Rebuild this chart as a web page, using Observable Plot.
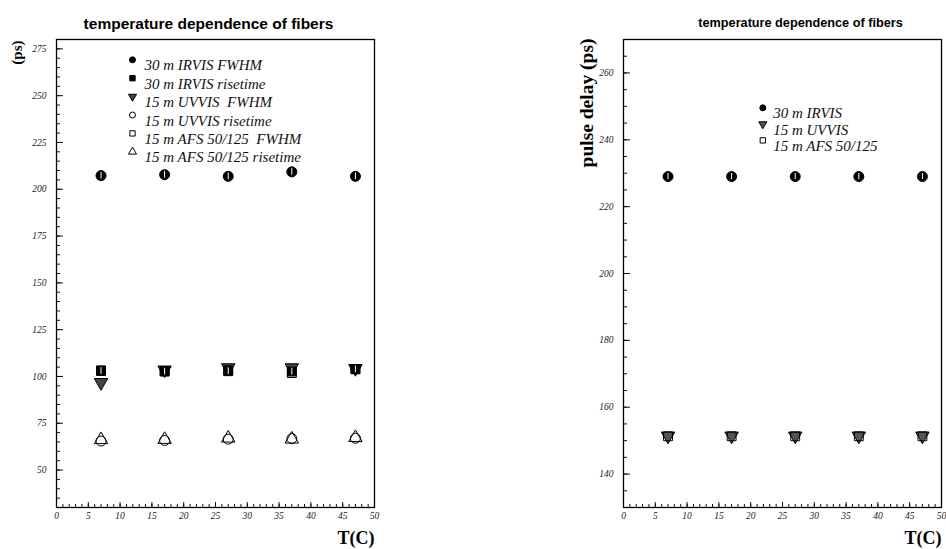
<!DOCTYPE html>
<html>
<head>
<meta charset="utf-8">
<script src="https://cdn.jsdelivr.net/npm/d3@7"></script>
<script src="https://cdn.jsdelivr.net/npm/@observablehq/plot@0.6"></script>
<style>
  html, body { margin: 0; padding: 0; background: #fff; }
  #wrap { display: flex; width: 946px; height: 549px; }
  #wrap svg { display: block; }
</style>
</head>
<body>
<div id="wrap"></div>
<script>
// ---------- data ----------
const temps = [7, 17, 27, 37, 47];

// left panel: widths / risetimes (ps)
const irvisFwhm = [207.3, 207.8, 206.9, 209.3, 206.9];
const irvisRise = [102.9, 102.6, 102.8, 102.6, 103.8];
const uvvisFwhm = [96.8, 103.5, 104.7, 104.7, 104.3];
const uvvisRise = [65.5, 65.8, 66.5, 66.8, 67.0];
const afsFwhm = [103.3, 102.8, 103.3, 101.8, 104.0];
const afsRise = [66.2, 66.3, 67.0, 66.5, 67.3];
const leftErr = [1.8, 1.8, 1.8, 1.8, 1.8];

// right panel: pulse delay (ps)
const delayIrvis = [229.0, 229.0, 229.0, 229.0, 229.0];
const delayUvvis = [151.4, 151.4, 151.4, 151.4, 151.4];
const delayAfs = [151.3, 151.3, 151.3, 151.3, 151.3];
const rightErr = [0.9, 0.9, 0.9, 0.9, 0.9];

// tick labels
const xTickLabels = [0, 5, 10, 15, 20, 25, 30, 35, 40, 45, 50];
const leftYTickLabels = [50, 75, 100, 125, 150, 175, 200, 225, 250, 275];
const rightYTickLabels = [140, 160, 180, 200, 220, 240, 260];

const titleText = "temperature dependence of fibers";

// legend order; "order" = drawing order of the points
const leftSeries = [
  {name: "30 m IRVIS FWHM", values: irvisFwhm, symbol: "circle", fill: "black", rotate: 0, order: 5},
  {name: "30 m IRVIS risetime", values: irvisRise, symbol: "square", fill: "black", rotate: 0, order: 2},
  {name: "15 m UVVIS\u00a0 FWHM", values: uvvisFwhm, symbol: "triangle", fill: "#444", rotate: 180, order: 0},
  {name: "15 m UVVIS risetime", values: uvvisRise, symbol: "circle", fill: "none", rotate: 0, order: 3},
  {name: "15 m AFS 50/125\u00a0 FWHM", values: afsFwhm, symbol: "square", fill: "none", rotate: 0, order: 1},
  {name: "15 m AFS 50/125 risetime", values: afsRise, symbol: "triangle", fill: "none", rotate: 0, order: 4}
];
const rightSeries = [
  {name: "30 m IRVIS", values: delayIrvis, symbol: "circle", fill: "black", rotate: 0, order: 2},
  {name: "15 m UVVIS", values: delayUvvis, symbol: "triangle", fill: "#555", rotate: 180, order: 0},
  {name: "15 m AFS 50/125", values: delayAfs, symbol: "square", fill: "none", rotate: 0, order: 1}
];

// ---------- helpers ----------
const SERIF = "Liberation Serif, Times New Roman, serif";
const SANS = "Liberation Sans, Arial, sans-serif";
const FRAME_W = 318, FRAME_H = 468;

function axes(yLabels, yMajorStep, yDomain) {
  const yMinor = d3.range(yDomain[0], yDomain[1] + 0.001, 5).filter(v => v > yDomain[0] && v < yDomain[1]);
  const yMajor = yMinor.filter(v => v % yMajorStep === 0);
  const xMinor = d3.range(1, 50, 1);
  const xMajor = xTickLabels.filter(v => v > 0 && v < 50);
  return [
    Plot.frame({stroke: "black", strokeWidth: 1.3, fill: "none"}),
    Plot.tickY(yMinor, {y: d => d, insetRight: FRAME_W - 4, stroke: "#111", strokeWidth: 1}),
    Plot.tickY(yMajor, {y: d => d, insetRight: FRAME_W - 7, stroke: "#111", strokeWidth: 1}),
    Plot.tickX(xMinor, {x: d => d, insetTop: FRAME_H - 3, stroke: "#111", strokeWidth: 1}),
    Plot.tickX(xMajor, {x: d => d, insetTop: FRAME_H - 5, stroke: "#111", strokeWidth: 1}),
    Plot.axisY(yLabels, {anchor: "left", tickSize: 0, tickPadding: 10, label: null,
      fontSize: 9.5, fontStyle: "italic", fontFamily: SERIF, fill: "#222"}),
    Plot.axisX(xTickLabels, {anchor: "bottom", tickSize: 0, tickPadding: 5, label: null,
      fontSize: 9.5, fontStyle: "italic", fontFamily: SERIF, fill: "#222"})
  ];
}

function seriesMarks(series, errs, r) {
  return [...series].sort((a, b) => a.order - b.order).flatMap(s => {
    const data = temps.map((t, i) => ({t, v: s.values[i], e: errs[i]}));
    const marks = [Plot.dot(data, {x: "t", y: "v", symbol: s.symbol, r, fill: s.fill,
      stroke: "black", strokeWidth: 1, rotate: s.rotate})];
    if (s.fill === "black") {
      marks.push(Plot.ruleX(data, {x: "t", y1: d => d.v - d.e, y2: d => d.v + d.e, stroke: "white", strokeWidth: 1}));
    }
    return marks;
  });
}

function legendMarks(series, dxSym, dxText, dy0, step, fontSize) {
  return series.flatMap((s, i) => [
    Plot.dot([s.name], {frameAnchor: "top-left", dx: dxSym, dy: dy0 + i * step, symbol: s.symbol,
      r: 3, fill: s.fill, stroke: "black", strokeWidth: 1, rotate: s.rotate}),
    Plot.text([s.name], {frameAnchor: "top-left", dx: dxText, dy: dy0 + i * step, text: d => d,
      textAnchor: "start", fontStyle: "italic", fontFamily: SERIF, fontSize, fill: "#111"})
  ]);
}

// ---------- left plot ----------
const leftDomain = [30, 280];
const left = Plot.plot({
  width: 473, height: 549,
  marginLeft: 56, marginRight: 99, marginTop: 39, marginBottom: 42,
  x: {domain: [0, 50]},
  y: {domain: leftDomain},
  style: {background: "white"},
  marks: [
    ...axes(leftYTickLabels, 25, leftDomain),
    ...seriesMarks(leftSeries, leftErr, 5),
    ...legendMarks(leftSeries, 76, 88, 20.3, 18.4, 15),
    Plot.text([titleText], {frameAnchor: "top", dx: -7, dy: -22, text: d => d,
      fontWeight: "bold", fontFamily: SANS, fontSize: 15.5, fill: "black"}),
    Plot.text(["(ps)"], {frameAnchor: "top-left", dx: -45, dy: 1, rotate: -90, textAnchor: "end",
      text: d => d, fontWeight: "bold", fontFamily: SERIF, fontSize: 15, fill: "black"}),
    Plot.text(["T(C)"], {frameAnchor: "bottom-right", dy: 36, textAnchor: "end", text: d => d,
      fontWeight: "bold", fontFamily: SERIF, fontSize: 18, fill: "black"})
  ]
});

// ---------- right plot ----------
const rightDomain = [130, 270];
const right = Plot.plot({
  width: 473, height: 549,
  marginLeft: 150, marginRight: 5, marginTop: 39, marginBottom: 42,
  x: {domain: [0, 50]},
  y: {domain: rightDomain},
  style: {background: "white"},
  marks: [
    ...axes(rightYTickLabels, 20, rightDomain),
    ...seriesMarks(rightSeries, rightErr, 5),
    ...legendMarks(rightSeries, 139.3, 149.7, 68.3, 16.3, 15),
    Plot.text([titleText], {frameAnchor: "top", dx: 18, dy: -22, text: d => d,
      fontWeight: "bold", fontFamily: SANS, fontSize: 12.7, fill: "black"}),
    Plot.text(["pulse delay (ps)"], {frameAnchor: "top-left", dx: -44.5, dy: -1, rotate: -90, textAnchor: "end",
      text: d => d, fontWeight: "bold", fontFamily: SERIF, fontSize: 19.5, fill: "black"}),
    Plot.text(["T(C)"], {frameAnchor: "bottom-right", dy: 36, textAnchor: "end", text: d => d,
      fontWeight: "bold", fontFamily: SERIF, fontSize: 18, fill: "black"})
  ]
});

document.getElementById("wrap").append(left, right);
</script>
</body>
</html>
